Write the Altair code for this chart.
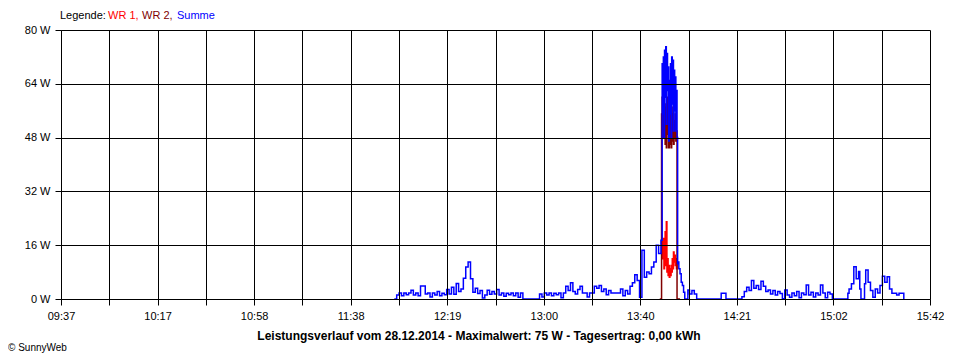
import altair as alt
import pandas as pd

# ---- axis text ----
x_labels = ["09:37", "10:17", "10:58", "11:38", "12:19", "13:00", "13:40", "14:21", "15:02", "15:42"]
span_min = 365          # minutes from 09:37 to 15:42
y_ticks = [0, 16, 32, 48, 64, 80]

title_text = "Leistungsverlauf vom 28.12.2014 - Maximalwert: 75 W - Tagesertrag: 0,00 kWh"
legend_parts = ["Legende:", "WR 1,", "WR 2,", "Summe"]
credit_text = "© SunnyWeb"

# ---- Summe (blue), minutes after 09:37 / watts ----
summe_min = [
    140, 141, 142, 143, 144, 145, 146, 147, 148, 149, 150, 151, 152, 153, 154, 155, 156, 157, 158, 159,
    160, 161, 162, 163, 164, 165, 166, 167, 168, 169, 170, 171, 172, 173, 174, 175, 176, 177, 178, 179,
    180, 181, 182, 183, 184, 185, 186, 187, 188, 189, 190, 191, 192, 193, 194,
    200, 201, 202, 203, 204, 205, 206, 207, 208, 209, 210, 211, 212, 213, 214, 215, 216, 217, 218, 219,
    220, 221, 222, 223, 224, 225, 226, 227, 228, 229, 230, 231, 232, 233, 234, 235, 236, 237, 238, 239,
    240, 241, 242, 243, 244, 245, 246, 247, 248, 249, 250, 251, 252,
    252.5, 252.75, 253.0, 253.25, 253.5, 253.75, 254.0, 254.25, 254.5, 254.75, 255.0, 255.25, 255.5,
    255.75, 256.0, 256.25, 256.5, 256.75, 257.0, 257.25, 257.5, 257.75, 258.0, 258.25, 258.5, 258.75,
    259.0, 259.25, 259.5, 260, 260.5, 261, 261.5, 262, 263.3, 264, 265, 266, 267, 277.3, 279.3,
    286, 287, 288, 289, 290, 291, 292, 293, 294, 295, 296, 297, 298, 299, 300, 301, 302, 303, 304, 305,
    306, 307, 308, 309, 310, 311, 312, 313, 314, 315, 316, 317, 318, 319, 320, 321, 322, 323, 324,
    330.5, 331, 332, 333, 334, 335, 335.5, 336, 337.5, 338, 339, 340, 341, 342, 343, 344, 345, 346,
    347, 348, 349, 350, 351, 352, 353, 354,
]
summe_w = [
    0, 1.2, 1.8, 1.0, 1.8, 1.3, 1.8, 2.6, 1.2, 1.8, 1.0, 3.9, 3.9, 1.5, 1.8, 0.6, 1.8, 1.2, 2.2, 1.0,
    1.7, 1.3, 2.8, 1.5, 3.5, 1.4, 4.6, 2.2, 3.0, 6.2, 9.5, 11.0, 6.0, 2.0, 3.2, 1.6, 2.5, 0.3, 1.2, 2.6,
    1.4, 2.2, 1.5, 2.8, 1.2, 1.8, 0.8, 1.7, 1.3, 1.8, 1.0, 1.8, 0.5, 1.8, 0,
    0, 1.5, 0.6, 1.8, 1.2, 1.8, 1.0, 1.7, 1.3, 1.8, 0.4, 1.8, 3.8, 2.5, 4.8, 2.2, 1.5, 2.8, 3.8, 1.8,
    1.8, 0.6, 1.8, 1.8, 3.8, 3.2, 4.0, 2.2, 3.0, 1.3, 2.5, 1.8, 1.8, 1.8, 1.8, 3.0, 1.0, 2.5, 1.5, 3.8,
    4.8, 7.2, 5.5, 0.5, 14.5, 6.5, 8.0, 7.5, 9.5, 11.0, 16.0, 13.5, 17.5,
    70, 55, 72, 48, 74, 60, 75, 52, 73, 62, 69, 47, 65,
    55, 70, 48, 72, 58, 71, 50, 68, 56, 66, 50, 62, 48,
    10.5, 11, 9, 7.5, 5, 4, 2, 0, 2.7, 1.5, 2.5, 1.5, 0, 1.7, 0,
    0.7, 2.2, 3.5, 2.5, 5.5, 3.2, 4.0, 2.8, 5.3, 3.8, 2.2, 2.7, 1.5, 2.5, 1.2, 2.2, 1.6, 0.1, 2.7, 1.2,
    0.5, 1.8, 1.0, 2.2, 0.4, 1.8, 1.3, 4.2, 1.2, 2.0, 0.6, 1.8, 1.2, 4.2, 1.8, 0.4, 2.0, 1.5, 0,
    1.7, 3.0, 4.5, 9.6, 6.0, 8.2, 3.0, 0, 4.5, 8.6, 5.0, 2.5, 0.5, 3.0, 1.8, 4.0, 6.8, 5.0,
    6.6, 3.0, 1.7, 1.7, 1.2, 1.7, 1.7, 0,
]

# ---- WR 1 (red), visible only where it differs from Summe ----
wr1_min = [252.25, 252.5, 252.75, 253.0, 253.25, 253.5, 253.75, 254.0, 254.25, 254.5, 254.75, 255.0,
           255.25, 255.5, 255.75, 256.0, 256.25, 256.5, 256.75, 257.0, 257.25, 257.5, 257.75, 258.0,
           258.25, 258.5, 258.75, 259.0]
wr1_w = [17, 15, 12, 18, 9, 14, 20, 10, 23, 8, 12, 7,
         10, 6.5, 9, 7, 10, 8, 12, 9, 14, 11, 13, 10,
         12, 9, 11, 10.5]

# ---- WR 2 (dark red) ----
wr2_min = [251.5, 252.25, 252.5, 252.75, 253.0, 253.25, 253.5, 253.75, 254.0, 254.25, 254.5, 254.75,
           255.0, 255.25, 255.5, 255.75, 256.0, 256.25, 256.5, 256.75, 257.0, 257.25, 257.5, 257.75,
           258.0, 258.25, 258.5, 258.75, 260]
wr2_w = [0, 55, 60, 48, 62, 52, 58, 46, 57, 45, 60, 49,
         56, 45, 54, 46, 58, 45, 55, 47, 57, 46, 53, 48,
         55, 47, 50, 0, 0]

FONT = "Liberation Sans"
W, H = 869, 269

grid_vals = [i * span_min / 18 for i in range(19)]
expanded = []
for i, lab in enumerate(x_labels):
    expanded.append(lab)
    if i < len(x_labels) - 1:
        expanded.append("")
label_arr = "[" + ",".join("'" + s + "'" for s in expanded) + "]"
x_label_expr = f"{label_arr}[round(datum.value * 18 / {span_min})]"

x_enc = alt.X(
    "t:Q",
    scale=alt.Scale(domain=[0, span_min], nice=False, zero=False),
    axis=alt.Axis(values=grid_vals, labelExpr=x_label_expr, title=None, grid=True,
                  tickSize=6, labelPadding=5, labelFlush=False, labelOverlap=False, zindex=1),
)
y_enc = alt.Y(
    "w:Q",
    scale=alt.Scale(domain=[0, 80], nice=False),
    axis=alt.Axis(values=y_ticks, labelExpr="datum.value + ' W'", title=None, grid=True,
                  tickSize=6, labelPadding=5, zindex=1),
)

def series(mins, watts, color):
    df = pd.DataFrame({"t": mins, "w": watts})
    return alt.Chart(df).mark_line(interpolate="step-after", color=color, strokeWidth=1.5,
                                   clip=True).encode(x=x_enc, y=y_enc)

wr1 = series(wr1_min, wr1_w, "#FF0000")
wr2 = series(wr2_min, wr2_w, "#800000")
summe = series(summe_min, summe_w, "#0000FF")

def text_layer(txt, x, y, color="black", weight="normal", align="left", size=11):
    return alt.Chart(pd.DataFrame({"s": [txt]})).mark_text(
        align=align, baseline="middle", font=FONT, fontSize=size, fontWeight=weight, color=color
    ).encode(text="s:N", x=alt.value(x), y=alt.value(y))

title = text_layer(title_text, 418, 306, weight="bold", align="center", size=12)
credit = text_layer(credit_text, -53, 318, size=10)
leg0 = text_layer(legend_parts[0], -1, -14)
leg1 = text_layer(legend_parts[1], 47, -14, color="#FF0000")
leg2 = text_layer(legend_parts[2], 81, -14, color="#800000")
leg3 = text_layer(legend_parts[3], 116, -14, color="#0000FF")

chart = alt.layer(wr1, wr2, summe, title, credit, leg0, leg1, leg2, leg3).properties(
    width=W, height=H,
    autosize=alt.AutoSizeParams(type="none"),
    padding={"left": 53, "top": 22, "right": 14, "bottom": 58},
    background="white",
).configure_view(stroke=None).configure_axis(
    domainColor="black", tickColor="black", gridColor="black", gridOpacity=1,
    gridWidth=1, domainWidth=1, tickWidth=1,
    labelFont=FONT, labelFontSize=11, labelColor="black",
)

chart.save("out.html", embed_options={"renderer": "svg", "actions": False})
